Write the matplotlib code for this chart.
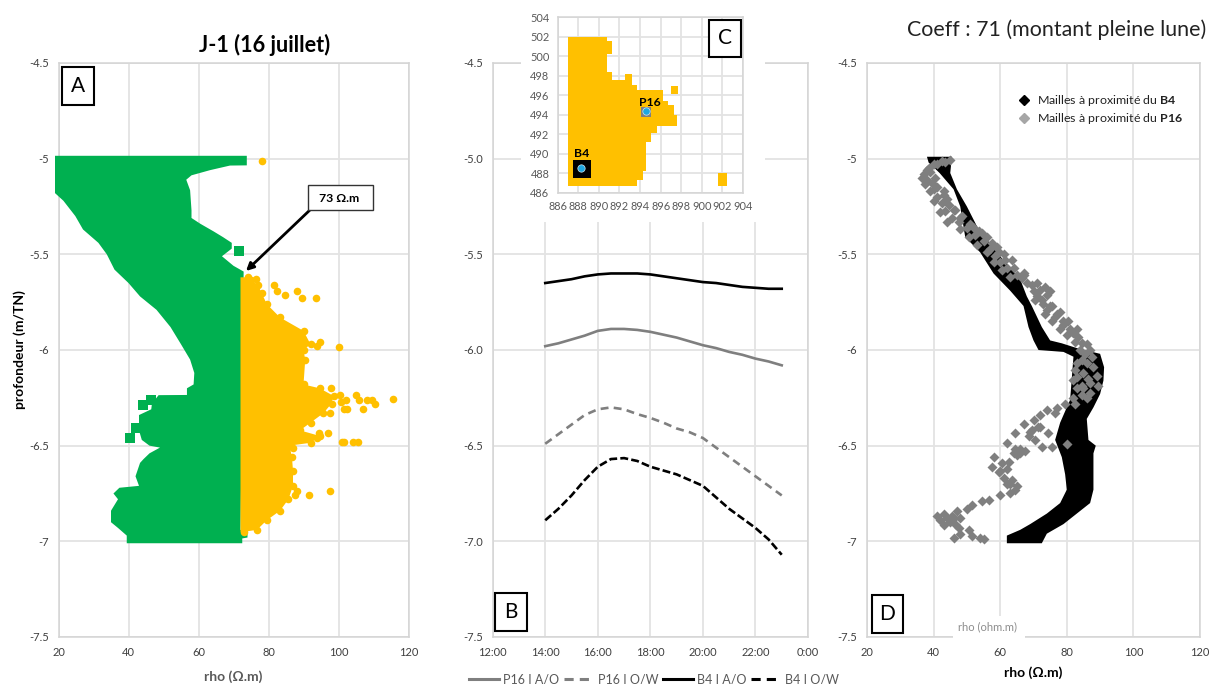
from matplotlib import pyplot as plt
from matplotlib.patches import Rectangle
from matplotlib.lines import Line2D

plt.rcParams['font.family'] = ['Lato', 'DejaVu Sans']
plt.rcParams['mathtext.fontset'] = 'custom'
plt.rcParams['mathtext.bf'] = 'Lato:bold'
plt.rcParams['mathtext.rm'] = 'Lato'

W, H = 1214, 684

# panel A - envelope of the cells
green_left_d = [-4.985, -5.18, -5.22, -5.3, -5.37, -5.44, -5.5, -5.58, -5.65, -5.72, -5.79, -5.88, -5.97,
                -6.05, -6.12, -6.18, -6.2, -6.235, -6.236, -6.28, -6.31, -6.34, -6.42, -6.47, -6.5, -6.51,
                -6.54, -6.57, -6.59, -6.66, -6.71, -6.72, -6.75, -6.78, -6.84, -6.9, -6.93, -6.97, -7.01]
green_left = [19, 19, 21.4, 24.8, 27, 31.4, 33.8, 36, 40, 43.3, 48, 52, 55,
              57.6, 58.8, 58.6, 56.7, 56.7, 48.6, 46.7, 46.5, 43, 43, 43.8, 46, 49,
              46, 44.3, 43.3, 42, 43, 37.4, 35.7, 37, 35, 35, 37, 39.5, 39.5]
green_right_d = [-4.985, -5.035, -5.036, -5.06, -5.087, -5.11, -5.165, -5.27, -5.31, -5.34, -5.38, -5.41, -5.44,
                 -5.47, -5.51, -5.56, -5.59, -6.94, -6.95, -6.98, -6.985, -7.01]
green_right = [73.8, 73.8, 69, 63.3, 58, 56.5, 57.6, 58, 58, 60.5, 64.3, 67, 69.5,
               69.5, 66.7, 70, 72.9, 72, 74, 74, 72.5, 72.5]
green_x = [71.7, 40.3, 42, 44, 46.5]
green_y = [-5.48, -6.46, -6.41, -6.29, -6.26]

yellow_d = [-5.62, -5.636, -5.66, -5.7, -5.76, -5.83, -5.9, -5.97, -6.0, -6.05, -6.18, -6.2, -6.24, -6.28, -6.33,
            -6.38, -6.42, -6.45, -6.485, -6.5, -6.56, -6.63, -6.71, -6.78, -6.84, -6.89, -6.94, -6.95]
yellow_right = [74, 75, 77, 78, 79.5, 83.3, 90, 92, 90, 90.5, 90, 94.6, 98.6, 98, 95.7,
                92, 89, 94.8, 92, 86, 86.7, 87, 87, 85.7, 83.3, 79.5, 76.7, 73]
yellow_x = [78, 84.8, 88, 89.5, 93.6, 81.5, 76.5, 82.5, 100, 94.6, 93.8, 97.8, 100.5, 105, 105.8, 107, 108, 109.5,
            110.5, 115.5, 102, 102.5, 100.8, 101.5, 97.6, 97, 94.4, 93.8, 101, 101.6, 104, 105.5, 87, 88.2, 87.5, 91.5, 97.6]
yellow_y = [-5.01, -5.71, -5.69, -5.73, -5.73, -5.66, -5.63, -5.69, -5.985, -5.96, -5.98, -6.2, -6.235, -6.235, -6.26,
            -6.31, -6.26, -6.26, -6.28, -6.256, -6.26, -6.31, -6.27, -6.31, -6.33, -6.435, -6.435, -6.46, -6.48, -6.48,
            -6.48, -6.48, -6.51, -6.735, -6.76, -6.76, -6.735]

# panel B - interface depth vs time of day (hours)
p16_ao_t = [14, 14.5, 15, 15.5, 16, 16.5, 17, 17.5, 18, 18.5, 19, 19.5, 20, 20.5, 21, 21.5, 22, 22.5, 23]
p16_ao = [-5.98, -5.965, -5.945, -5.925, -5.90, -5.89, -5.89, -5.895, -5.905, -5.92, -5.935, -5.955, -5.975, -5.99, -6.01, -6.025, -6.045, -6.06, -6.08]
b4_ao_t = [14, 14.5, 15, 15.5, 16, 16.5, 17, 17.5, 18, 18.5, 19, 19.5, 20, 20.5, 21, 21.5, 22, 22.5, 23]
b4_ao = [-5.65, -5.64, -5.63, -5.615, -5.605, -5.60, -5.60, -5.60, -5.605, -5.615, -5.625, -5.635, -5.645, -5.65, -5.66, -5.67, -5.675, -5.68, -5.68]
p16_ow_t = [14, 14.5, 15, 15.5, 16, 16.5, 17, 17.5, 18, 18.5, 19, 19.5, 20, 20.5, 21, 21.5, 22, 22.5, 23]
p16_ow = [-6.49, -6.44, -6.39, -6.34, -6.31, -6.30, -6.31, -6.335, -6.355, -6.38, -6.41, -6.43, -6.46, -6.51, -6.56, -6.61, -6.66, -6.71, -6.76]
b4_ow_t = [14, 14.5, 15, 15.5, 16, 16.5, 17, 17.5, 18, 18.5, 19, 19.5, 20, 20.5, 21, 21.5, 22, 22.5, 23]
b4_ow = [-6.89, -6.83, -6.76, -6.68, -6.61, -6.57, -6.565, -6.58, -6.61, -6.63, -6.65, -6.68, -6.71, -6.77, -6.83, -6.88, -6.93, -6.99, -7.07]
time_ticks = [12, 14, 16, 18, 20, 22, 24]
time_labels = ['12:00', '14:00', '16:00', '18:00', '20:00', '22:00', '0:00']

# panel C - map rows: bottom, top, right edge of the orange area (left edge is 887)
map_bottom = [501.5, 500.25, 498.4, 497.5, 497.0, 496.5, 495.4, 495, 494, 492.8, 492.1, 491.2, 488.2, 487.3, 486.7]
map_top = [502, 501.5, 500.25, 498.4, 497.5, 497.0, 496.5, 495.4, 495, 494, 492.8, 492.1, 491.2, 488.2, 487.3]
map_right = [890.75, 891.25, 890.75, 891.25, 893.2, 893.75, 896.2, 896.7, 897.25, 897.6, 895.6, 895.1, 894.6, 894.25, 893.75]
map_left = 887

# panel D - black band of the B4 cells
black_left_d = [-4.99, -5.02, -5.075, -5.16, -5.25, -5.41, -5.49, -5.6, -5.69, -5.77, -5.88, -5.95, -6.0, -6.01,
                -6.035, -6.26, -6.38, -6.47, -6.56, -6.65, -6.73, -6.8, -6.855, -6.91, -6.94, -6.97, -7.01]
black_left = [38, 38.5, 41.8, 46, 48, 49.5, 54, 58, 63, 67, 68.5, 70, 71.5, 79,
              82, 81, 78, 76.5, 78.5, 79.5, 80, 78, 74, 69, 66, 62, 62]
black_right_d = [-4.99, -5.075, -5.16, -5.25, -5.37, -5.51, -5.63, -5.72, -5.77, -5.88, -5.95, -5.965, -5.99, -6.02,
                 -6.09, -6.16, -6.23, -6.3, -6.36, -6.47, -6.5, -6.54, -6.73, -6.8, -6.855, -6.91, -6.96, -7.01]
black_right = [45.5, 45, 47, 50, 53.5, 60, 66, 68, 69.5, 72.5, 75, 78.5, 83, 90,
               91.2, 91, 90, 88, 86, 86.5, 88.7, 88, 88, 87, 83, 79, 74, 72.5]

gray_x = [45, 42.5, 40, 38.5, 37, 38, 39.5, 37.5, 40, 41, 42.5, 43.5, 45.5, 47.5, 50, 52.5, 55, 57, 58.5, 60, 62, 65,
          66.5, 69.5, 72, 74, 72.5, 70.5, 74, 76.5, 79, 82, 84.5, 85.5, 87.5, 84.5, 88, 82.5, 89, 85, 82, 89.5, 87, 84.5,
          87, 84.5, 82, 82.5, 79.5, 77, 74, 76.5, 72, 70, 67, 71.5, 69.5, 64.5, 74.5, 68.5, 70.5, 62, 72.5, 75.5, 80, 67.5,
          64.5, 65, 58, 62.5, 60.5, 57.5, 59.5, 61, 63, 64.5, 63, 60, 56.5, 54.5, 51.5, 50, 47, 43, 45.5, 42, 45, 43, 46.5,
          47.5, 50.5, 48, 46, 51.5, 54, 55, 39, 41, 43, 44.5, 46.5, 48.5, 51, 53.5, 56, 59, 61, 63.5, 67, 75, 78, 80.5, 83]
gray_y = [-5.005, -5.014, -5.03, -5.05, -5.08, -5.11, -5.127, -5.13, -5.16, -5.2, -5.23, -5.275, -5.31, -5.33, -5.36, -5.4,
          -5.43, -5.47, -5.51, -5.54, -5.57, -5.61, -5.625, -5.66, -5.685, -5.71, -5.74, -5.74, -5.79, -5.825, -5.87, -5.91,
          -5.965, -6.02, -6.035, -6.05, -6.09, -6.105, -6.135, -6.12, -6.157, -6.187, -6.175, -6.19, -6.227, -6.235, -6.25,
          -6.28, -6.28, -6.305, -6.315, -6.33, -6.34, -6.365, -6.385, -6.4, -6.42, -6.436, -6.436, -6.45, -6.47, -6.485,
          -6.506, -6.506, -6.49, -6.53, -6.515, -6.55, -6.56, -6.585, -6.59, -6.61, -6.637, -6.67, -6.7, -6.73, -6.75, -6.76,
          -6.785, -6.79, -6.81, -6.83, -6.84, -6.855, -6.865, -6.89, -6.9, -6.915, -6.91, -6.93, -6.94, -6.96, -6.985, -6.97,
          -6.985, -6.99, -5.07, -5.15, -5.19, -5.24, -5.27, -5.3, -5.34, -5.38, -5.41, -5.46, -5.5, -5.53, -5.6, -5.77, -5.8,
          -5.85, -5.89]
# second row of diamonds, fills the ribbon of the P16 cells
gray2_x = [38, 41, 43.5, 36.5, 40.5, 39, 43, 40, 44, 42, 46, 44, 48, 48, 52, 50.5, 54.5, 53, 57.5, 56, 59.5, 58, 61.5, 60.5, 64,
           63, 67, 68, 71, 70, 73.5, 75, 71, 73, 75.5, 73.5, 77, 75.5, 79, 78, 81, 80, 83.5, 82.5, 86, 84, 87, 83, 86, 83, 86.5,
           85, 86, 83, 69, 66, 72, 62, 60, 62, 65, 63.5, 44, 41, 46, 48, 64, 66]
gray2_y = [-5.06, -5.03, -5.02, -5.1, -5.1, -5.17, -5.17, -5.22, -5.21, -5.28, -5.27, -5.33, -5.31, -5.37, -5.36, -5.41, -5.39,
           -5.45, -5.44, -5.49, -5.49, -5.54, -5.53, -5.58, -5.57, -5.62, -5.61, -5.65, -5.65, -5.69, -5.67, -5.69, -5.72, -5.76,
           -5.77, -5.81, -5.81, -5.85, -5.85, -5.89, -5.89, -5.92, -5.93, -5.96, -5.97, -6.0, -6.0, -6.07, -6.07, -6.14, -6.15,
           -6.2, -6.25, -6.2, -6.43, -6.54, -6.4, -6.62, -6.63, -6.7, -6.71, -6.68, -6.88, -6.87, -6.88, -6.88, -6.54, -6.52]

GREEN = '#00b050'
YELLOW = '#ffc000'
GRAY = '#7f7f7f'
GRID = '#e3e3e3'
SPINE = '#d4d4d4'
TXT = '#3f3f3f'


def px_axes(fig, left, top, right, bottom, **kw):
    return fig.add_axes([left / W, 1 - bottom / H, (right - left) / W, (bottom - top) / H], **kw)


def style(ax, size=8, pad=7):
    for s in ax.spines.values():
        s.set_color(SPINE)
        s.set_linewidth(1.1)
    ax.grid(True, color=GRID, lw=1.3)
    ax.set_axisbelow(True)
    ax.tick_params(length=0, labelsize=size, labelcolor=TXT, pad=pad)


def depth_axis(ax, labels):
    ax.set_ylim(-7.5, -4.5)
    ax.set_yticks([-7.5, -7, -6.5, -6, -5.5, -5, -4.5])
    ax.set_yticklabels(labels)


def rho_axis(ax):
    ax.set_xlim(20, 120)
    ax.set_xticks([20, 40, 60, 80, 100, 120])


def letter(fig, text, x0, y0, x1, y1):
    fig.add_artist(Rectangle((x0 / W, 1 - y1 / H), (x1 - x0) / W, (y1 - y0) / H, transform=fig.transFigure,
                             fc='white', ec='black', lw=1.5, zorder=8))
    fig.text((x0 + x1) / 2 / W, 1 - (y0 + y1) / 2 / H, text, ha='center', va='center', fontsize=15, zorder=9)


fig = plt.figure(figsize=(W / 100, H / 100), dpi=100)
labels_plain = ['-7.5', '-7', '-6.5', '-6', '-5.5', '-5', '-4.5']
labels_dec = ['-7.5', '-7.0', '-6.5', '-6.0', '-5.5', '-5.0', '-4.5']

# A
ax = px_axes(fig, 58.5, 63, 408.5, 637)
style(ax)
depth_axis(ax, labels_plain)
rho_axis(ax)
ax.fill(green_left + green_right[::-1], green_left_d + green_right_d[::-1], color=GREEN, lw=0, clip_on=False, zorder=3)
ax.scatter(green_x, green_y, marker='s', s=62, color=GREEN, lw=0, zorder=3)
ax.fill([72] * len(yellow_d) + yellow_right[::-1], yellow_d + yellow_d[::-1], color=YELLOW, lw=0, zorder=4)
ax.scatter(yellow_right, yellow_d, s=30, color=YELLOW, lw=0, zorder=4)
ax.scatter(yellow_x, yellow_y, s=30, color=YELLOW, lw=0, zorder=4)
ax.set_xlabel('rho (Ω.m)', fontsize=10, fontweight='bold', color='#595959', labelpad=9)
ax.set_ylabel('profondeur (m/TN)', fontsize=10, fontweight='bold', color='black', labelpad=2)
fig.text(265 / W, 1 - 45 / H, 'J-1 (16 juillet)', ha='center', va='center', fontsize=15.6, fontweight='bold')

fig.add_artist(plt.Annotation('', xy=(246 / W, 1 - 271 / H), xytext=(311 / W, 1 - 209 / H), xycoords='figure fraction',
                              textcoords='figure fraction', arrowprops=dict(arrowstyle='-|>', color='black', lw=2, mutation_scale=11,
                                                                             shrinkA=0, shrinkB=0)))
fig.add_artist(Rectangle((308 / W, 1 - 210 / H), 65 / W, 25 / H, transform=fig.transFigure, fc='white', ec='#333333', lw=1, zorder=6))
fig.text(339 / W, 1 - 198 / H, '73 Ω.m', ha='center', va='center', fontsize=8.8, fontweight='bold', zorder=7)

# B
ax = px_axes(fig, 492.7, 63, 808, 637)
style(ax)
depth_axis(ax, labels_dec)
ax.set_xlim(12, 24)
ax.set_xticks(time_ticks)
ax.set_xticklabels(time_labels)
ax.plot(p16_ao_t, p16_ao, color=GRAY, lw=1.9)
ax.plot(p16_ow_t, p16_ow, color=GRAY, lw=1.9, ls=(0, (3, 2)))
ax.plot(b4_ao_t, b4_ao, color='black', lw=1.9)
ax.plot(b4_ow_t, b4_ow, color='black', lw=1.9, ls=(0, (3, 1.2)))
handles = [Line2D([], [], color=GRAY, lw=2.2), Line2D([], [], color=GRAY, lw=2.2, ls=(0, (3, 2))),
           Line2D([], [], color='black', lw=2.2), Line2D([], [], color='black', lw=2.2, ls=(0, (3, 2)))]
fig.legend(handles, ['P16 I A/O', 'P16 I O/W', 'B4 I A/O', 'B4 I O/W'], ncol=4, loc='center', bbox_to_anchor=(654 / W, 1 - 679 / H),
           frameon=False, fontsize=9, labelcolor='#595959', handlelength=2.4, handletextpad=0.3, columnspacing=0.4, borderpad=0)

# white block behind the map, hides the top of panel B
fig.add_artist(Rectangle((521 / W, 1 - 222 / H), 244 / W, 222 / H, transform=fig.transFigure, fc='white', ec='none', zorder=2))

# C
ax = px_axes(fig, 557.7, 17, 743, 192.7, zorder=5)
style(ax, size=7.9, pad=6)
ax.tick_params(labelcolor='#595959')
ax.set_xlim(886, 904)
ax.set_ylim(486, 504)
ax.set_xticks(range(886, 905, 2))
ax.set_yticks(range(486, 505, 2))
widths = [r - map_left for r in map_right]
heights = [t - b for t, b in zip(map_top, map_bottom)]
ax.barh(map_bottom, widths, height=heights, left=map_left, align='edge', color=YELLOW, lw=0, zorder=3)
ax.bar([892.5, 897, 901.6], [0.7, 0.8, 1.3], width=[0.75, 0.7, 0.8], bottom=[497.5, 496.1, 486.7], align='edge', color=YELLOW, lw=0, zorder=3)
ax.scatter([888.4], [488.4], marker='s', s=150, color='black', lw=0, zorder=4)
ax.scatter([894.6], [494.3], marker='s', s=62, color=GRAY, lw=0, zorder=4)
ax.scatter([888.25, 894.55], [488.5, 494.4], s=28, color='#1ea7e0', ec='#cfe8f5', lw=0.5, zorder=5)
ax.text(888.35, 490, 'B4', ha='center', va='center', fontsize=8.8, fontweight='bold', zorder=6)
ax.text(895, 495.2, 'P16', ha='center', va='center', fontsize=8.8, fontweight='bold', zorder=6)

# D
ax = px_axes(fig, 867, 63, 1200, 637)
style(ax)
depth_axis(ax, labels_plain)
rho_axis(ax)
ax.fill(black_left + black_right[::-1], black_left_d + black_right_d[::-1], color='black', lw=0, zorder=3)
ax.scatter(gray_x + gray2_x, gray_y + gray2_y, marker='D', s=26, color=GRAY, lw=0, zorder=4)
ax.set_xlabel('rho (Ω.m)', fontsize=10, fontweight='bold', color='black', labelpad=6)
fig.text(1057 / W, 1 - 30 / H, 'Coeff : 71 (montant pleine lune)', ha='center', va='center', fontsize=15.4, color='#222222')
leg_handles = [Line2D([], [], marker='D', color='black', ls='', ms=5.5), Line2D([], [], marker='D', color='#a6a6a6', ls='', ms=5.5)]
ax.legend(leg_handles, ['Mailles à proximité du $\\mathbf{B4}$', 'Mailles à proximité du $\\mathbf{P16}$'],
          loc='upper left', bbox_to_anchor=(1012 / W, 1 - 93 / H), bbox_transform=fig.transFigure, frameon=False,
          fontsize=8.9, handletextpad=0.05, labelspacing=0.25, borderpad=0, borderaxespad=0, labelcolor='#222222')

fig.add_artist(Rectangle((953 / W, 1 - 641 / H), 72 / W, 25 / H, transform=fig.transFigure, fc='white', ec='none', zorder=2))
fig.text(988 / W, 1 - 627 / H, 'rho (ohm.m)', ha='center', va='center', fontsize=8, color='#8c8c8c', zorder=3)

letter(fig, 'A', 62, 67, 94, 105)
letter(fig, 'B', 495, 593, 527, 631)
letter(fig, 'C', 709, 20, 741, 57)
letter(fig, 'D', 872, 595, 903, 633)

fig.savefig('out.png', dpi=100)
